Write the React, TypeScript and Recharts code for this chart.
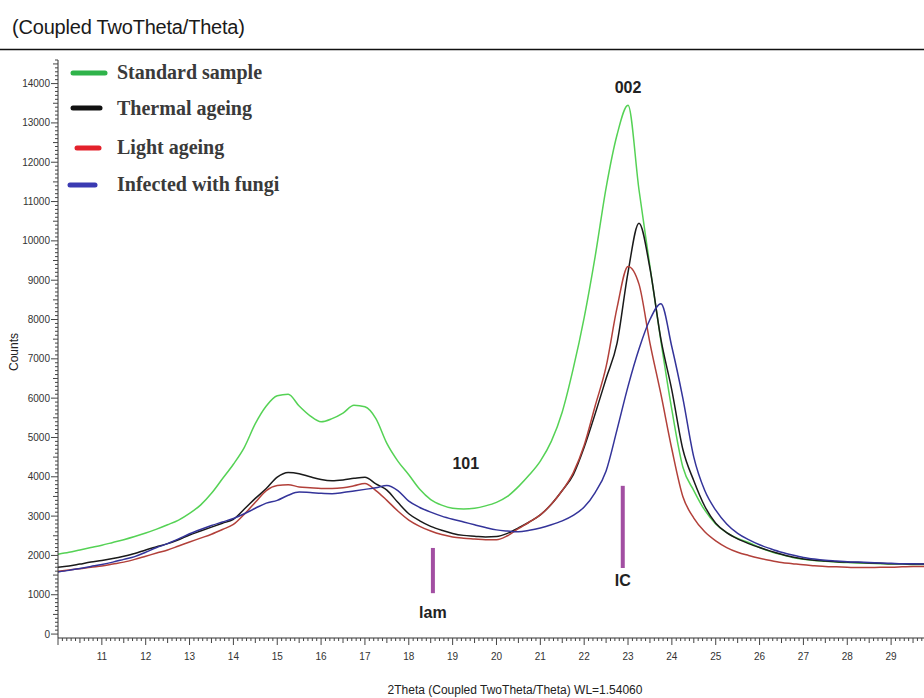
import React from 'react';
import { LineChart, Line, XAxis, YAxis, ReferenceLine, ReferenceDot, Label } from 'recharts';

// 2Theta sampling grid (degrees)
const twoTheta = [
  10, 10.25, 10.5, 10.75, 11, 11.25, 11.5, 11.75, 12, 12.25, 12.5, 12.75, 13, 13.25, 13.5, 13.75,
  14, 14.25, 14.5, 14.75, 15, 15.25, 15.5, 15.75, 16, 16.25, 16.5, 16.75, 17, 17.25, 17.5, 17.75,
  18, 18.25, 18.5, 18.75, 19, 19.25, 19.5, 19.75, 20, 20.25, 20.5, 20.75, 21, 21.25, 21.5, 21.75,
  22, 22.25, 22.5, 22.75, 23, 23.25, 23.5, 23.75, 24, 24.25, 24.5, 24.75, 25, 25.25, 25.5, 25.75,
  26, 26.25, 26.5, 26.75, 27, 27.25, 27.5, 27.75, 28, 28.25, 28.5, 28.75, 29, 29.25, 29.5, 29.75,
];

const standardSample = [
  2030, 2080, 2140, 2200, 2260, 2330, 2400, 2480, 2570, 2670, 2780, 2900, 3070, 3280, 3580, 3950,
  4320, 4750, 5350, 5800, 6060, 6100, 5800, 5550, 5400, 5480, 5620, 5820, 5780, 5480, 4850, 4400,
  4050, 3680, 3420, 3280, 3200, 3180, 3200, 3260, 3350, 3500, 3750, 4050, 4400, 4900, 5650, 6750,
  8050, 9600, 11350, 12700, 13450, 11300, 9350, 7450, 5700, 4250, 3650, 3150, 2800, 2580, 2430, 2330,
  2200, 2100, 2020, 1950, 1900, 1870, 1850, 1830, 1820, 1810, 1800, 1790, 1780, 1780, 1770, 1770,
];

const thermalAgeing = [
  1700, 1730, 1780, 1830, 1870, 1920, 1980, 2050, 2140, 2220, 2300, 2400, 2520, 2620, 2720, 2820,
  2920, 3180, 3450, 3700, 3990, 4110, 4080, 4000, 3930, 3900, 3920, 3960, 3990, 3820, 3660, 3350,
  3060, 2880, 2740, 2640, 2560, 2510, 2490, 2470, 2480, 2560, 2700, 2850, 3030, 3300, 3650, 4050,
  4750, 5600, 6500, 7400, 9200, 10450, 9300, 7500, 6200, 4700, 3900, 3250, 2820, 2580, 2420, 2300,
  2200, 2110, 2030, 1960, 1910, 1880, 1860, 1840, 1830, 1820, 1810, 1800, 1790, 1790, 1780, 1780,
];

const lightAgeing = [
  1600, 1630, 1660, 1700, 1730, 1780, 1830, 1900, 1980, 2060, 2140, 2240, 2340, 2440, 2540, 2660,
  2790, 3050, 3350, 3650, 3780, 3800, 3740, 3720, 3700, 3700, 3720, 3770, 3830, 3650, 3400, 3130,
  2900, 2740, 2620, 2530, 2470, 2440, 2420, 2400, 2400, 2500, 2680, 2850, 3030, 3300, 3650, 4100,
  4800, 5800, 6800, 8300, 9350, 8900, 7400, 6100, 4700, 3500, 2950, 2600, 2370, 2200, 2080, 2000,
  1930, 1870, 1820, 1790, 1760, 1740, 1720, 1710, 1700, 1690, 1690, 1700, 1700, 1710, 1720, 1720,
];

const infectedWithFungi = [
  1580, 1620, 1670, 1720, 1770, 1830, 1900, 1970, 2080, 2200, 2300, 2420, 2550, 2660, 2760, 2850,
  2940, 3060, 3200, 3330, 3400, 3530, 3610, 3600, 3580, 3570, 3600, 3640, 3680, 3720, 3780, 3650,
  3380, 3220, 3100, 3000, 2920, 2850, 2780, 2710, 2650, 2620, 2600, 2640, 2700, 2780, 2880, 3020,
  3230, 3600, 4150, 5200, 6300, 7250, 8000, 8400, 7300, 6000, 4500, 3650, 3150, 2800, 2560, 2400,
  2270, 2170, 2080, 2010, 1950, 1910, 1880, 1860, 1840, 1830, 1820, 1810, 1800, 1790, 1790, 1780,
];

const seriesNames = ['Standard sample', 'Thermal ageing', 'Light ageing', 'Infected with fungi'];
const seriesKeys = ['standard', 'thermal', 'light', 'fungi'];
const lineColors = ['#55d255', '#1a1a1a', '#b2403a', '#34349a'];
const legendColors = ['#2fb34a', '#111111', '#e3212b', '#3a3ab2'];

const xTickLabels = [11, 12, 13, 14, 15, 16, 17, 18, 19, 20, 21, 22, 23, 24, 25, 26, 27, 28, 29];
const yTickLabels = [0, 1000, 2000, 3000, 4000, 5000, 6000, 7000, 8000, 9000, 10000, 11000, 12000, 13000, 14000];

// annotations: [label, 2theta, counts]
const peakLabels: [string, number, number][] = [
  ['002', 23.0, 13900],
  ['101', 19.3, 4350],
];
const markerBars: [string, number, number, number, number][] = [
  // label, 2theta, bottom counts, top counts, label counts
  ['lam', 18.55, 1040, 2190, 560],
  ['IC', 22.88, 1680, 3770, 1370],
];

const data = twoTheta.map((t, i) => ({
  t,
  standard: standardSample[i],
  thermal: thermalAgeing[i],
  light: lightAgeing[i],
  fungi: infectedWithFungi[i],
}));

const xMinor: number[] = [];
for (let i = 100; i <= 297; i++) xMinor.push(i / 10);
const yMinor: number[] = [];
for (let j = 0; j <= 146; j++) yMinor.push(j * 100);

const XTick = (props: any) => {
  const { x, y, payload } = props;
  const v = payload.value;
  const k = Math.round(v * 10);
  const major = k % 10 === 0;
  const mid = k % 5 === 0;
  const len = major ? 7 : mid ? 5 : 3;
  const lab = Math.round(v);
  return (
    <g>
      <line x1={x} y1={y} x2={x} y2={y + len} stroke="#444" strokeWidth={1} />
      {major && xTickLabels.includes(lab) && (
        <text x={x} y={y + 22} textAnchor="middle" fontSize={10} fill="#333" fontFamily="Arial, 'Liberation Sans', sans-serif">
          {lab}
        </text>
      )}
    </g>
  );
};

const YTick = (props: any) => {
  const { x, y, payload } = props;
  const v = payload.value;
  const k = Math.round(v / 100);
  const major = k % 10 === 0;
  const mid = k % 5 === 0;
  const len = major ? 7 : mid ? 5 : 3;
  return (
    <g>
      <line x1={x - len} y1={y} x2={x} y2={y} stroke="#444" strokeWidth={1} />
      {major && yTickLabels.includes(v) && (
        <text x={x - 8} y={y + 3.5} textAnchor="end" fontSize={10} fill="#333" fontFamily="Arial, 'Liberation Sans', sans-serif">
          {v}
        </text>
      )}
    </g>
  );
};

const legendY = [73, 108, 148, 185];
const legendBarX: [number, number][] = [[73, 105], [73, 100], [77, 99], [70, 95]];
const legendTextY = [79, 115, 154, 191];

export default function App() {
  return (
    <div style={{ position: 'absolute', left: 0, top: 0, width: 924, height: 698, background: '#fff' }}>
      <LineChart
        width={924}
        height={698}
        data={data}
        margin={{ top: 60, right: 0, bottom: 0, left: 0 }}
        style={{ position: 'absolute', left: 0, top: 0 }}
      >
        <XAxis
          dataKey="t"
          type="number"
          domain={[10, 29.75]}
          allowDataOverflow
          ticks={xMinor}
          interval={0}
          tickSize={0}
          tickMargin={0}
          tick={<XTick />}
          height={60}
          axisLine={{ stroke: '#333', strokeWidth: 1 }}
          tickLine={false}
        />
        <YAxis
          type="number"
          domain={[-100, 14600]}
          allowDataOverflow
          ticks={yMinor}
          interval={0}
          tickSize={0}
          tickMargin={0}
          tick={<YTick />}
          width={58}
          axisLine={{ stroke: '#333', strokeWidth: 1 }}
          tickLine={false}
        />
        {seriesKeys.map((k, i) => (
          <Line
            key={k}
            dataKey={k}
            name={seriesNames[i]}
            stroke={lineColors[i]}
            strokeWidth={1.5}
            dot={false}
            type="monotone"
            isAnimationActive={false}
          />
        ))}
        {markerBars.map(([lab, t, y0, y1]) => (
          <ReferenceLine
            key={'bar' + lab}
            segment={[{ x: t, y: y0 }, { x: t, y: y1 }]}
            stroke="#a24fa2"
            strokeWidth={4}
          />
        ))}
        {markerBars.map(([lab, t, , , ly]) => (
          <ReferenceDot key={'lab' + lab} x={t} y={ly} r={0} fill="none" stroke="none">
            <Label value={lab} position="center" fontSize={16} fontWeight="bold" fill="#222" fontFamily="Arial, 'Liberation Sans', sans-serif" />
          </ReferenceDot>
        ))}
        {peakLabels.map(([lab, t, c]) => (
          <ReferenceDot key={'pk' + lab} x={t} y={c} r={0} fill="none" stroke="none">
            <Label value={lab} position="center" fontSize={16} fontWeight="bold" fill="#222" fontFamily="Arial, 'Liberation Sans', sans-serif" />
          </ReferenceDot>
        ))}
      </LineChart>
      <svg width={924} height={698} style={{ position: 'absolute', left: 0, top: 0, pointerEvents: 'none' }}>
        <text x={12} y={34} fontSize={20} fill="#1a1a1a" fontFamily="Arial, 'Liberation Sans', sans-serif" style={{ letterSpacing: -0.2 }}>
          (Coupled TwoTheta/Theta)
        </text>
        <line x1={0} y1={49.5} x2={924} y2={49.5} stroke="#111" strokeWidth={1.5} />
        <text
          transform="translate(18,352) rotate(-90)"
          textAnchor="middle"
          fontSize={12}
          fill="#222"
          fontFamily="Arial, 'Liberation Sans', sans-serif"
        >
          Counts
        </text>
        <text x={515} y={694} textAnchor="middle" fontSize={12} fill="#222" fontFamily="Arial, 'Liberation Sans', sans-serif">
          2Theta (Coupled TwoTheta/Theta) WL=1.54060
        </text>
        {seriesNames.map((n, i) => (
          <g key={n}>
            <line
              x1={legendBarX[i][0]}
              y1={legendY[i]}
              x2={legendBarX[i][1]}
              y2={legendY[i]}
              stroke={legendColors[i]}
              strokeWidth={5}
              strokeLinecap="round"
            />
            <text
              x={117}
              y={legendTextY[i]}
              fontSize={20}
              fontWeight="bold"
              fill="#3a3a3a"
              fontFamily="'Liberation Serif', 'Times New Roman', serif"
            >
              {n}
            </text>
          </g>
        ))}
      </svg>
    </div>
  );
}
